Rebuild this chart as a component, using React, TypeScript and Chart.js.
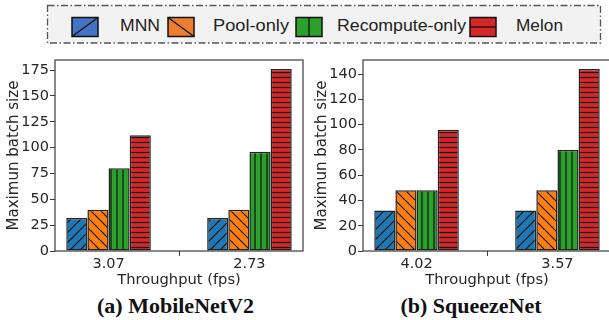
import React, { useEffect, useRef } from 'react';
import { Chart, registerables } from 'chart.js';

Chart.register(...registerables);

// ---------------- data ----------------
const SERIES_NAMES = ['MNN', 'Pool-only', 'Recompute-only', 'Melon'];

const mobileCategories = ['3.07', '2.73'];
const mobileMNN = [32, 32];
const mobilePool = [40, 40];
const mobileRecompute = [80, 96];
const mobileMelon = [112, 176];
const mobileYTicks = [0, 25, 50, 75, 100, 125, 150, 175];

const squeezeCategories = ['4.02', '3.57'];
const squeezeMNN = [32, 32];
const squeezePool = [48, 48];
const squeezeRecompute = [48, 80];
const squeezeMelon = [96, 144];
const squeezeYTicks = [0, 20, 40, 60, 80, 100, 120, 140];

const Y_TITLE = 'Maximun batch size';
const X_TITLE = 'Throughput (fps)';

// ---------------- styles ----------------
const BAR_COLORS = ['#1f77b4', '#ff7f0e', '#2ca02c', '#d62728'];
const LEGEND_COLORS = ['#4472c4', '#ed7d31', '#2ca02c', '#d62728'];
const HATCHES = ['/', '\\', '|', '-'];
const TEXT_COLOR = '#262626';
const AXIS_COLOR = '#3a3a3a';

function makePattern(color: string, hatch: string): CanvasPattern | string {
  const s = hatch === '/' || hatch === '\\' ? 10 : hatch === '|' ? 6 : 5;
  const c = document.createElement('canvas');
  c.width = s;
  c.height = s;
  const g = c.getContext('2d');
  if (!g) return color;
  g.fillStyle = color;
  g.fillRect(0, 0, s, s);
  g.strokeStyle = '#111';
  g.lineWidth = 1.2;
  g.beginPath();
  if (hatch === '/') {
    for (let k = -1; k <= 1; k++) {
      g.moveTo(k * s, s);
      g.lineTo(k * s + s, 0);
    }
  } else if (hatch === '\\') {
    for (let k = -1; k <= 1; k++) {
      g.moveTo(k * s, 0);
      g.lineTo(k * s + s, s);
    }
  } else if (hatch === '|') {
    g.moveTo(3, 0);
    g.lineTo(3, s);
  } else if (hatch === '-') {
    g.moveTo(0, 2.5);
    g.lineTo(s, 2.5);
  }
  g.stroke();
  return g.createPattern(c, 'repeat') || color;
}

const framePlugin = {
  id: 'frame',
  afterDraw(chart: any) {
    const { ctx, chartArea } = chart;
    const { left, top, right, bottom } = chartArea;
    ctx.save();
    ctx.strokeStyle = AXIS_COLOR;
    ctx.lineWidth = 1.2;
    ctx.strokeRect(left, top, right - left, bottom - top);
    ctx.restore();
  },
};

interface PanelProps {
  categories: string[];
  series: number[][];
  yMax: number;
  yTicks: number[];
  yAxisWidth: number;
  yTitlePad: number;
  left: number;
  width: number;
}

function ChartPanel(props: PanelProps) {
  const ref = useRef<HTMLCanvasElement>(null);
  useEffect(() => {
    const canvas = ref.current;
    if (!canvas) return;
    const { categories, series, yMax, yTicks, yAxisWidth, yTitlePad } = props;
    const datasets = series.map((vals, i) => ({
      label: SERIES_NAMES[i],
      data: vals.map((v, j) => ({ x: j, y: v })),
      backgroundColor: makePattern(BAR_COLORS[i], HATCHES[i]),
      borderColor: '#222',
      borderWidth: 1.5,
      borderSkipped: false,
      categoryPercentage: 0.6,
      barPercentage: 1,
    }));
    const chart = new Chart(canvas, {
      type: 'bar',
      data: { datasets } as any,
      options: {
        animation: false,
        responsive: false,
        maintainAspectRatio: false,
        layout: { padding: { top: 10, right: 2, left: 0, bottom: 0 } },
        plugins: {
          legend: { display: false },
          tooltip: { enabled: false },
        },
        scales: {
          x: {
            type: 'linear',
            min: -0.38,
            max: 1.38,
            offset: false,
            afterBuildTicks: (scale: any) => {
              scale.ticks = categories.map((_, i) => ({ value: i }));
            },
            afterFit: (scale: any) => {
              scale.height = 39;
            },
            ticks: {
              autoSkip: false,
              maxRotation: 0,
              padding: 0,
              color: TEXT_COLOR,
              font: { family: 'DejaVu Sans', size: 14.5 },
              callback: (v: any) => categories[Math.round(Number(v))] ?? '',
            },
            grid: {
              display: true,
              drawOnChartArea: false,
              drawTicks: true,
              tickLength: 5,
              color: AXIS_COLOR,
              lineWidth: 1,
            },
            border: { display: false },
            title: {
              display: true,
              text: X_TITLE,
              color: TEXT_COLOR,
              font: { family: 'DejaVu Sans', size: 14.7 },
              padding: { top: 0, bottom: 1.5 },
            },
          },
          y: {
            type: 'linear',
            min: 0,
            max: yMax,
            afterBuildTicks: (scale: any) => {
              scale.ticks = yTicks.map((v) => ({ value: v }));
            },
            afterFit: (scale: any) => {
              scale.width = yAxisWidth;
            },
            ticks: {
              padding: 1,
              color: TEXT_COLOR,
              font: { family: 'DejaVu Sans', size: 14.5 },
              callback: (v: any) => String(v),
            },
            grid: {
              display: true,
              drawOnChartArea: false,
              drawTicks: true,
              tickLength: 5,
              color: AXIS_COLOR,
              lineWidth: 1,
            },
            border: { display: false },
            title: {
              display: true,
              text: Y_TITLE,
              color: TEXT_COLOR,
              font: { family: 'DejaVu Sans', size: 15 },
              padding: { top: yTitlePad, bottom: 0 },
            },
          },
        },
      } as any,
      plugins: [framePlugin],
    });
    return () => chart.destroy();
  }, []);
  return (
    <canvas
      ref={ref}
      width={props.width}
      height={240}
      style={{ position: 'absolute', left: props.left, top: 50, width: props.width, height: 240 }}
    />
  );
}

const LEGEND_ITEMS = [
  { swatchX: 72, textX: 120, textW: 40 },
  { swatchX: 168, textX: 213, textW: 76 },
  { swatchX: 296, textX: 337, textW: 129 },
  { swatchX: 470, textX: 516, textW: 47 },
];

function Legend() {
  const sw = 26;
  const sh = 19;
  const sy = 17.5;
  return (
    <svg
      width={609}
      height={48}
      style={{ position: 'absolute', left: 0, top: 0 }}
    >
      <rect
        x={47.5}
        y={5.5}
        width={553}
        height={37.5}
        fill="#f2f2f2"
        stroke="#555"
        strokeWidth={1.3}
        strokeDasharray="7 2.5 1.5 2.5"
      />
      {LEGEND_ITEMS.map((it, i) => {
        const x = it.swatchX;
        let line = null;
        if (HATCHES[i] === '/') line = <line x1={x} y1={sy + sh} x2={x + sw} y2={sy} stroke="#111" strokeWidth={1.3} />;
        if (HATCHES[i] === '\\') line = <line x1={x} y1={sy} x2={x + sw} y2={sy + sh} stroke="#111" strokeWidth={1.3} />;
        if (HATCHES[i] === '|') line = <line x1={x + sw / 2} y1={sy} x2={x + sw / 2} y2={sy + sh} stroke="#111" strokeWidth={1.3} />;
        if (HATCHES[i] === '-') line = <line x1={x} y1={sy + sh / 2} x2={x + sw} y2={sy + sh / 2} stroke="#111" strokeWidth={1.3} />;
        return (
          <g key={i}>
            <rect x={x} y={sy} width={sw} height={sh} fill={LEGEND_COLORS[i]} />
            {line}
            <rect x={x} y={sy} width={sw} height={sh} fill="none" stroke="#111" strokeWidth={1.5} />
            <text
              x={it.textX}
              y={31}
              fontFamily="Liberation Sans, Arial, sans-serif"
              fontSize={17}
              fill="#222"
              textLength={it.textW}
              lengthAdjust="spacingAndGlyphs"
            >
              {SERIES_NAMES[i]}
            </text>
          </g>
        );
      })}
    </svg>
  );
}

const captionStyle: React.CSSProperties = {
  position: 'absolute',
  top: 294,
  width: 240,
  textAlign: 'center',
  font: 'bold 22px "Liberation Serif", "Times New Roman", serif',
  lineHeight: '24px',
  color: '#111',
  whiteSpace: 'nowrap',
};

export default function App() {
  return (
    <div
      style={{
        position: 'fixed',
        left: 0,
        top: 0,
        width: 609,
        height: 320,
        overflow: 'hidden',
        background: '#fff',
      }}
    >
      <Legend />
      <ChartPanel
        categories={mobileCategories}
        series={[mobileMNN, mobilePool, mobileRecompute, mobileMelon]}
        yMax={184.8}
        yTicks={mobileYTicks}
        yAxisWidth={55}
        yTitlePad={5}
        left={0}
        width={305}
      />
      <ChartPanel
        categories={squeezeCategories}
        series={[squeezeMNN, squeezePool, squeezeRecompute, squeezeMelon]}
        yMax={151.2}
        yTicks={squeezeYTicks}
        yAxisWidth={58}
        yTitlePad={8}
        left={305}
        width={308}
      />
      <div style={{ ...captionStyle, left: 175.5 - 120 }}>(a) MobileNetV2</div>
      <div style={{ ...captionStyle, left: 471 - 120 }}>(b) SqueezeNet</div>
    </div>
  );
}
